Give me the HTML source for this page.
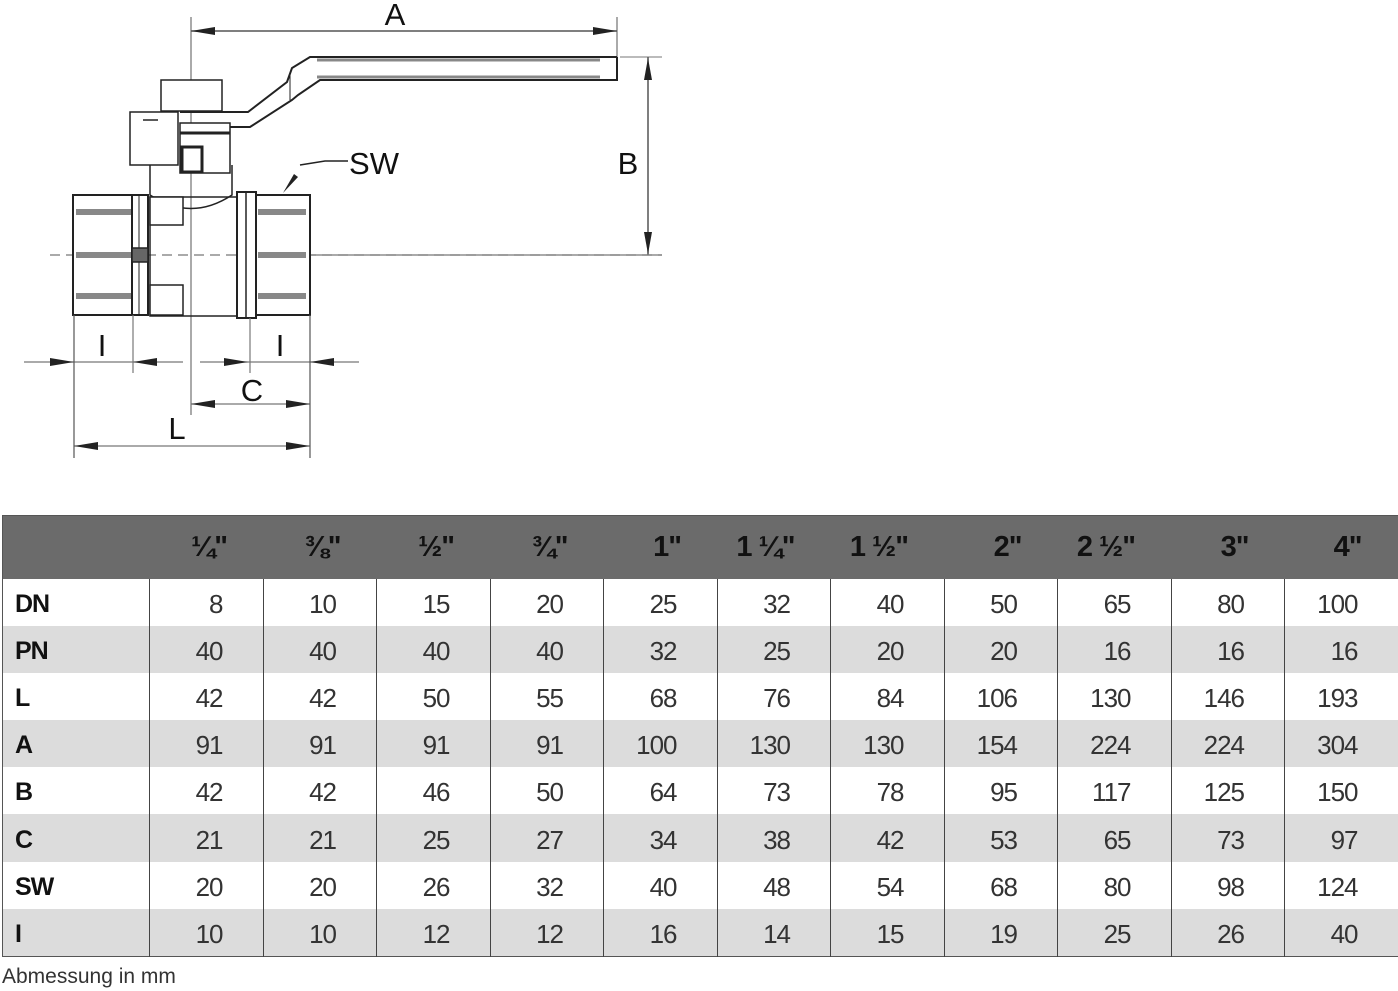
<!DOCTYPE html>
<html><head><meta charset="utf-8"><style>
body{margin:0;width:1398px;height:991px;background:#fff;position:relative;overflow:hidden;font-family:"Liberation Sans",sans-serif}
svg{position:absolute;left:0;top:0}
table{position:absolute;left:2px;top:515px;border-collapse:collapse;table-layout:fixed;width:1395px;border:1.5px solid #555}
td,th{border-left:1px solid #444;padding:0;text-align:right;box-sizing:border-box}
th{background:#6b6b6b;height:63px;font-size:29px;font-weight:bold;color:#111;padding-right:36px;border-left:none;letter-spacing:-1px}
tr.r{height:47.2px}
td{font-size:26px;line-height:26px;color:#333;padding-right:40px;letter-spacing:-1px;padding-top:3px}
td.h{text-align:left;font-weight:bold;color:#111;padding-left:12px;border-left:none;font-size:25px}
tr.g td{background:#dcdcdc}
.foot{position:absolute;left:2px;top:965px;font-size:21px;color:#333}
</style></head><body>
<svg width="700" height="480" viewBox="0 0 700 480">
<g stroke="#222" fill="none" stroke-width="1.5">
<line x1="191" y1="17" x2="191" y2="415" stroke="#555" stroke-width="1"/>
<line x1="191" y1="31" x2="617" y2="31" stroke="#555"/>
<line x1="617" y1="17" x2="617" y2="58" stroke="#555" stroke-width="1"/>
<path d="M617 57 L310 57 L292 68 L287 82 L248 112 L180 112" stroke-width="2"/>
<path d="M617 57 L617 80 L320 80 L298 95 L292 100 L250 127 L180 127" stroke-width="2"/>
<line x1="317" y1="60" x2="600" y2="60" stroke="#888" stroke-width="3"/>
<line x1="317" y1="77" x2="600" y2="77" stroke="#888" stroke-width="3"/>
<line x1="290" y1="75" x2="290" y2="100" stroke-width="1"/>
<line x1="620" y1="57" x2="662" y2="57" stroke="#777" stroke-width="1"/>
<line x1="648" y1="57" x2="648" y2="255" stroke="#555"/>
<line x1="50" y1="255" x2="662" y2="255" stroke="#777" stroke-width="1.2" stroke-dasharray="10 6"/>
<line x1="310" y1="255" x2="662" y2="255" stroke="#777" stroke-width="1.2"/>
<rect x="161" y="80" width="61" height="31" fill="#fff"/>
<rect x="130" y="112" width="48" height="53" fill="#fff"/>
<line x1="143" y1="120" x2="158" y2="120"/>
<rect x="180" y="123" width="50" height="50" fill="#fff"/>
<rect x="182" y="147" width="20" height="25" fill="#fff" stroke-width="3"/>
<line x1="180" y1="133" x2="230" y2="133" stroke-width="3"/>
<path d="M150 165 L150 195 Q191 222 232 195 L232 165"/>
<rect x="150" y="197" width="87" height="119" fill="none"/>
<rect x="150" y="197" width="33" height="28" fill="#fff"/>
<rect x="150" y="285" width="33" height="30" fill="#fff"/>
<rect x="73" y="195" width="75" height="120" fill="#fff" stroke-width="2"/>
<line x1="132" y1="195" x2="132" y2="315" stroke-width="2"/>
<line x1="139" y1="195" x2="139" y2="315" stroke-width="1"/>
<rect x="132" y="248" width="16" height="14" fill="#666"/>
<rect x="237" y="192" width="19" height="126" fill="#fff" stroke-width="2"/>
<line x1="246" y1="192" x2="246" y2="318"/>
<rect x="256" y="195" width="54" height="120" fill="#fff" stroke-width="2"/>
</g>
<g fill="#888">
<rect x="76" y="209" width="55" height="6"/><rect x="76" y="252" width="55" height="6"/><rect x="76" y="293" width="55" height="6"/>
<rect x="258" y="209" width="48" height="6"/><rect x="258" y="252" width="48" height="6"/><rect x="258" y="293" width="48" height="6"/>
</g>
<path d="M300 165 L325 161 L348 161" stroke="#222" fill="none" stroke-width="1.5"/>
<path d="M283 193 L294 174 L298 177 Z" fill="#222"/>
<g stroke="#777" stroke-width="1.2">
<line x1="24" y1="362" x2="183" y2="362"/>
<line x1="200" y1="362" x2="359" y2="362"/>
<line x1="133" y1="315" x2="133" y2="373"/>
<line x1="250" y1="318" x2="250" y2="373"/>
<line x1="191" y1="404" x2="310" y2="404"/>
<line x1="74" y1="446" x2="310" y2="446"/>
<line x1="74" y1="315" x2="74" y2="458" stroke="#555"/>
<line x1="310" y1="315" x2="310" y2="458" stroke="#555"/>
</g>
<g fill="#222">
<path d="M191 31 l24 -4 v8z"/><path d="M617 31 l-24 -4 v8z"/>
<path d="M648 58 l-4 22 h8z"/><path d="M648 254 l-4 -22 h8z"/>
<path d="M74 362 l-24 -4 v8z"/><path d="M133 362 l24 -4 v8z"/>
<path d="M248 362 l-24 -4 v8z"/><path d="M310 362 l24 -4 v8z"/>
<path d="M191 404 l24 -4 v8z"/><path d="M310 404 l-24 -4 v8z"/>
<path d="M74 446 l24 -4 v8z"/><path d="M310 446 l-24 -4 v8z"/>
</g>
<g font-family="Liberation Sans,sans-serif" font-size="31" fill="#111" text-anchor="middle">
<text x="395" y="25">A</text>
<text x="628" y="174">B</text>
<text x="374" y="174">SW</text>
<text x="102" y="356">I</text>
<text x="280" y="356">I</text>
<text x="252" y="401">C</text>
<text x="177" y="439">L</text>
</g>
</svg>
<table>
<colgroup><col style="width:147px"><col span="11" style="width:113.5px"></colgroup>
<tr><th style="border-left:none"></th><th>¼"</th><th>⅜"</th><th>½"</th><th>¾"</th><th>1"</th><th>1 ¼"</th><th>1 ½"</th><th>2"</th><th>2 ½"</th><th>3"</th><th>4"</th></tr>
<tr class="r"><td class="h">DN</td><td>8</td><td>10</td><td>15</td><td>20</td><td>25</td><td>32</td><td>40</td><td>50</td><td>65</td><td>80</td><td>100</td></tr>
<tr class="r g"><td class="h">PN</td><td>40</td><td>40</td><td>40</td><td>40</td><td>32</td><td>25</td><td>20</td><td>20</td><td>16</td><td>16</td><td>16</td></tr>
<tr class="r"><td class="h">L</td><td>42</td><td>42</td><td>50</td><td>55</td><td>68</td><td>76</td><td>84</td><td>106</td><td>130</td><td>146</td><td>193</td></tr>
<tr class="r g"><td class="h">A</td><td>91</td><td>91</td><td>91</td><td>91</td><td>100</td><td>130</td><td>130</td><td>154</td><td>224</td><td>224</td><td>304</td></tr>
<tr class="r"><td class="h">B</td><td>42</td><td>42</td><td>46</td><td>50</td><td>64</td><td>73</td><td>78</td><td>95</td><td>117</td><td>125</td><td>150</td></tr>
<tr class="r g"><td class="h">C</td><td>21</td><td>21</td><td>25</td><td>27</td><td>34</td><td>38</td><td>42</td><td>53</td><td>65</td><td>73</td><td>97</td></tr>
<tr class="r"><td class="h">SW</td><td>20</td><td>20</td><td>26</td><td>32</td><td>40</td><td>48</td><td>54</td><td>68</td><td>80</td><td>98</td><td>124</td></tr>
<tr class="r g"><td class="h">I</td><td>10</td><td>10</td><td>12</td><td>12</td><td>16</td><td>14</td><td>15</td><td>19</td><td>25</td><td>26</td><td>40</td></tr>
</table>
<div class="foot">Abmessung in mm</div>
</body></html>
